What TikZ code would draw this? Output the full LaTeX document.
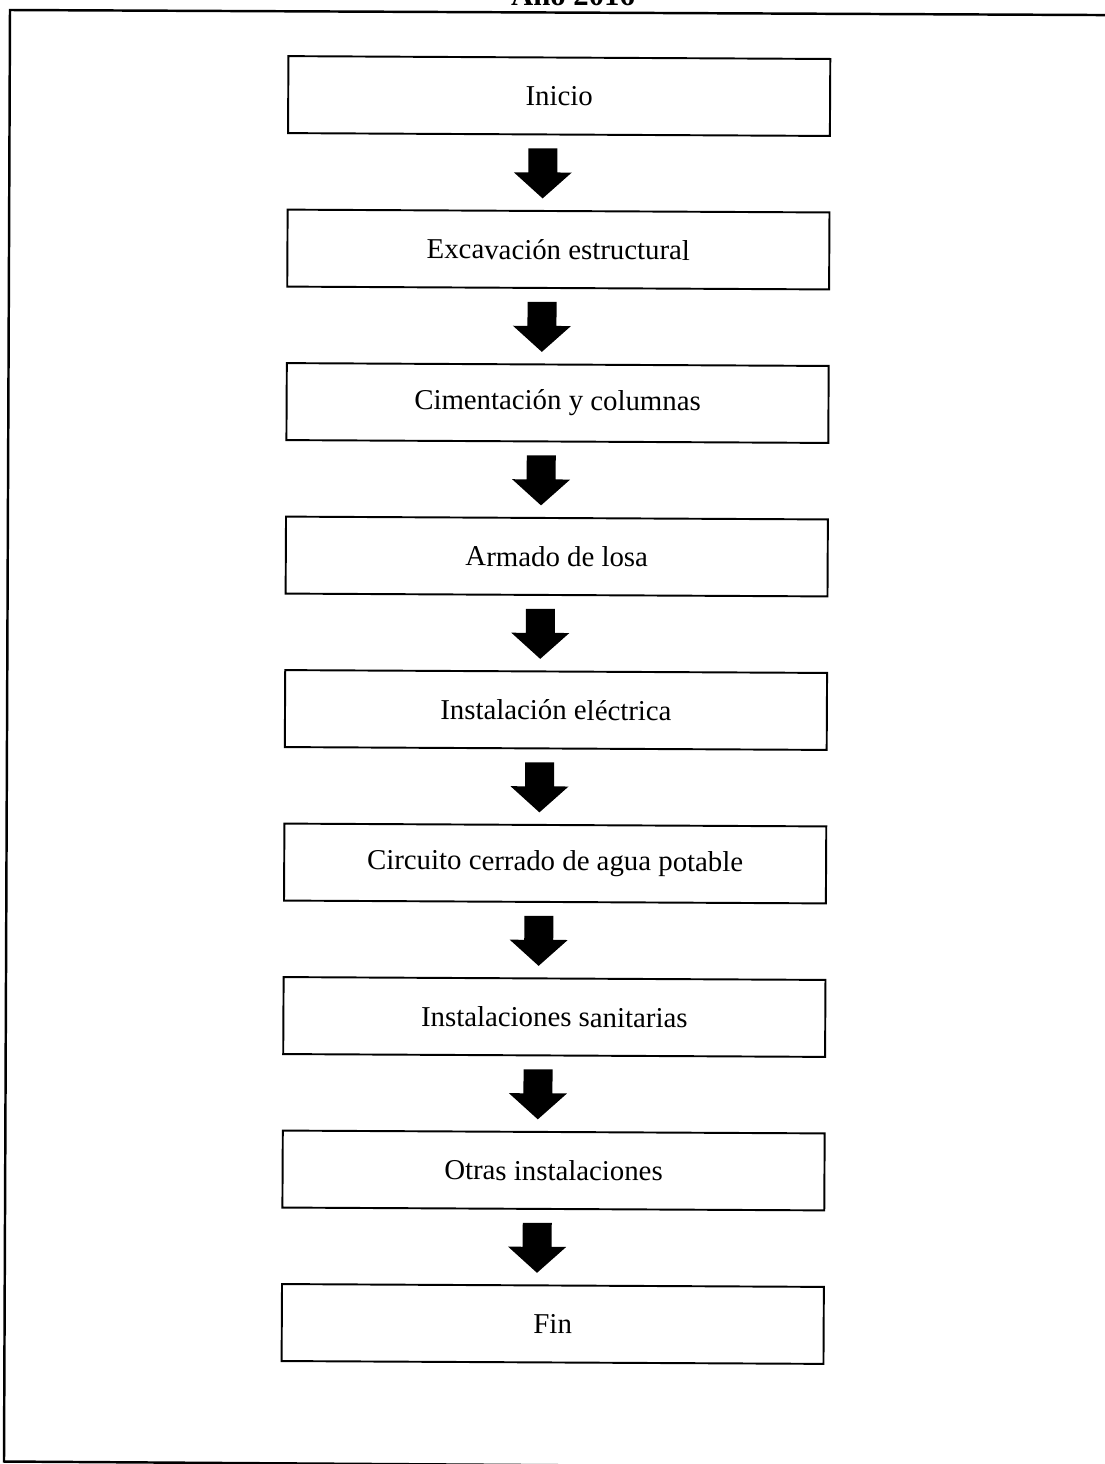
\documentclass[tikz,border=0pt]{standalone}
\usepackage{fontspec}
\setmainfont{Liberation Serif}
\usetikzlibrary{calc}
\tikzset{
  stepbox/.style={draw, line width=1.1pt, minimum width=10.84cm, minimum height=1.54cm,
    inner sep=0pt, font=\fontsize{16.4}{19}\selectfont},
  frameline/.style={line width=1.4pt},
  arrowfill/.style={fill=black}
}
\newcommand\blockarrow[2]{%
  \fill[arrowfill] (#1.south) ++(-30.5,13) -- ++(29,0) -- ++(0,24) -- ++(14.5,0)
    -- ++(-29,26) -- ++(-29,-26) -- ++(14.5,0) -- cycle;}
\begin{document}
\begin{tikzpicture}[x=0.02cm, y=-0.02cm]
\useasboundingbox (0,0) rectangle (1105,1464);
% title (cut by the page edge)
\node[font=\bfseries\fontsize{17.5}{20}\selectfont, anchor=base, inner sep=0pt] (title) at (573,5.5) {Año 2016};
% outer frame
\coordinate (ftr) at (1200,15.5);
\coordinate (ftl) at (10,10);
\coordinate (fbl) at (4,1461.5);
\coordinate (fbr) at (900,1467.5);
\draw[frameline] (ftr) -- (ftl) -- (fbl) -- (fbr);
\begin{scope}[rotate around={-0.3:(556,700)}, transform shape]
\node[stepbox] (b1) at (556,96) {Inicio};
\node[stepbox] (b2) at (556,249.5) {Excavación estructural};
\node[stepbox] (b3) at (556,403) {Cimentación y columnas};
\node[stepbox] (b4) at (556,556.5) {Armado de losa};
\node[stepbox] (b5) at (556,710) {Instalación eléctrica};
\node[stepbox] (b6) at (556,863.5) {Circuito cerrado de agua potable};
\node[stepbox] (b7) at (556,1017) {Instalaciones sanitarias};
\node[stepbox] (b8) at (556,1170.5) {Otras instalaciones};
\node[stepbox] (b9) at (556,1324) {Fin};
\blockarrow{b1}{b2}
\blockarrow{b2}{b3}
\blockarrow{b3}{b4}
\blockarrow{b4}{b5}
\blockarrow{b5}{b6}
\blockarrow{b6}{b7}
\blockarrow{b7}{b8}
\blockarrow{b8}{b9}
\end{scope}
\end{tikzpicture}
\end{document}
